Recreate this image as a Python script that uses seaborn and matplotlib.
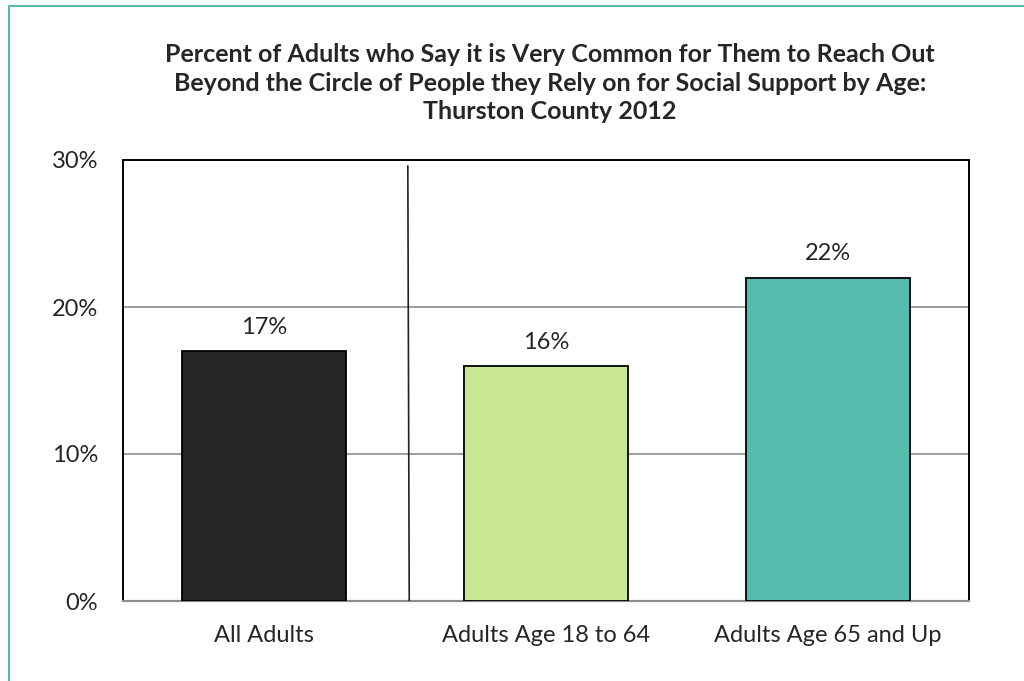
import matplotlib
matplotlib.use("Agg")
import matplotlib.pyplot as plt
import seaborn as sns
import pandas as pd
from matplotlib.ticker import FuncFormatter

# ---------------------------------------------------------
# Data
# ---------------------------------------------------------
groups = ["All Adults", "Adults Age 18 to 64", "Adults Age 65 and Up"]
percent = [17, 16, 22]
bar_colors = ["#262626", "#c8e896", "#55bbad"]

df = pd.DataFrame({"group": groups, "percent": percent})

title = ("Percent of Adults who Say it is Very Common for Them to Reach Out\n"
         "Beyond the Circle of People they Rely on for Social Support by Age:\n"
         "Thurston County 2012")

# ---------------------------------------------------------
# Plot
# ---------------------------------------------------------
sns.set_style("white")
plt.rcParams["font.family"] = ["Lato", "DejaVu Sans"]

fig = plt.figure(figsize=(10.24, 6.81), dpi=100)
ax = fig.add_axes([123 / 1024, 1 - 601 / 681, 846 / 1024, 441 / 681])

sns.barplot(data=df, x="group", y="percent", hue="group", palette=bar_colors,
            legend=False, width=0.58, edgecolor="black", linewidth=1.3,
            saturation=1, ax=ax, zorder=3)

ax.set_xlim(-0.5, 2.5)
ax.set_ylim(0, 30)
ax.set_yticks([0, 10, 20, 30])
ax.yaxis.set_major_formatter(FuncFormatter(lambda v, _: f"{v:.0f}%"))
ax.grid(axis="y", color="#8c8c8c", linewidth=1.2, zorder=0)
ax.set_xlabel("")
ax.set_ylabel("")
ax.tick_params(axis="both", length=0, labelsize=17)
ax.tick_params(axis="x", pad=17)
ax.tick_params(axis="y", pad=18)

for side in ["top", "right", "left"]:
    ax.spines[side].set_color("black")
    ax.spines[side].set_linewidth(1.4)
ax.spines["bottom"].set_color("#8c8c8c")
ax.spines["bottom"].set_linewidth(1.6)

# divider between total and age groups
ax.plot([0.51, 0.515], [29.6, 0], color="#222222", linewidth=1.2, zorder=4)

for i, v in enumerate(percent):
    ax.text(i, v + 0.9, f"{v}%", ha="center", va="bottom", fontsize=17)

fig.text(0.537, 0.937, title, ha="center", va="top", fontsize=18,
         fontweight="bold", linespacing=1.3)

# teal frame on left/top edges
fig.add_artist(plt.Line2D([9 / 1024, 9 / 1024], [0, 1 - 6 / 681],
                          color="#55bbad", linewidth=1.5))
fig.add_artist(plt.Line2D([9 / 1024, 1], [1 - 6 / 681, 1 - 6 / 681],
                          color="#55bbad", linewidth=1.5))

plt.savefig("out.png", dpi=100)
